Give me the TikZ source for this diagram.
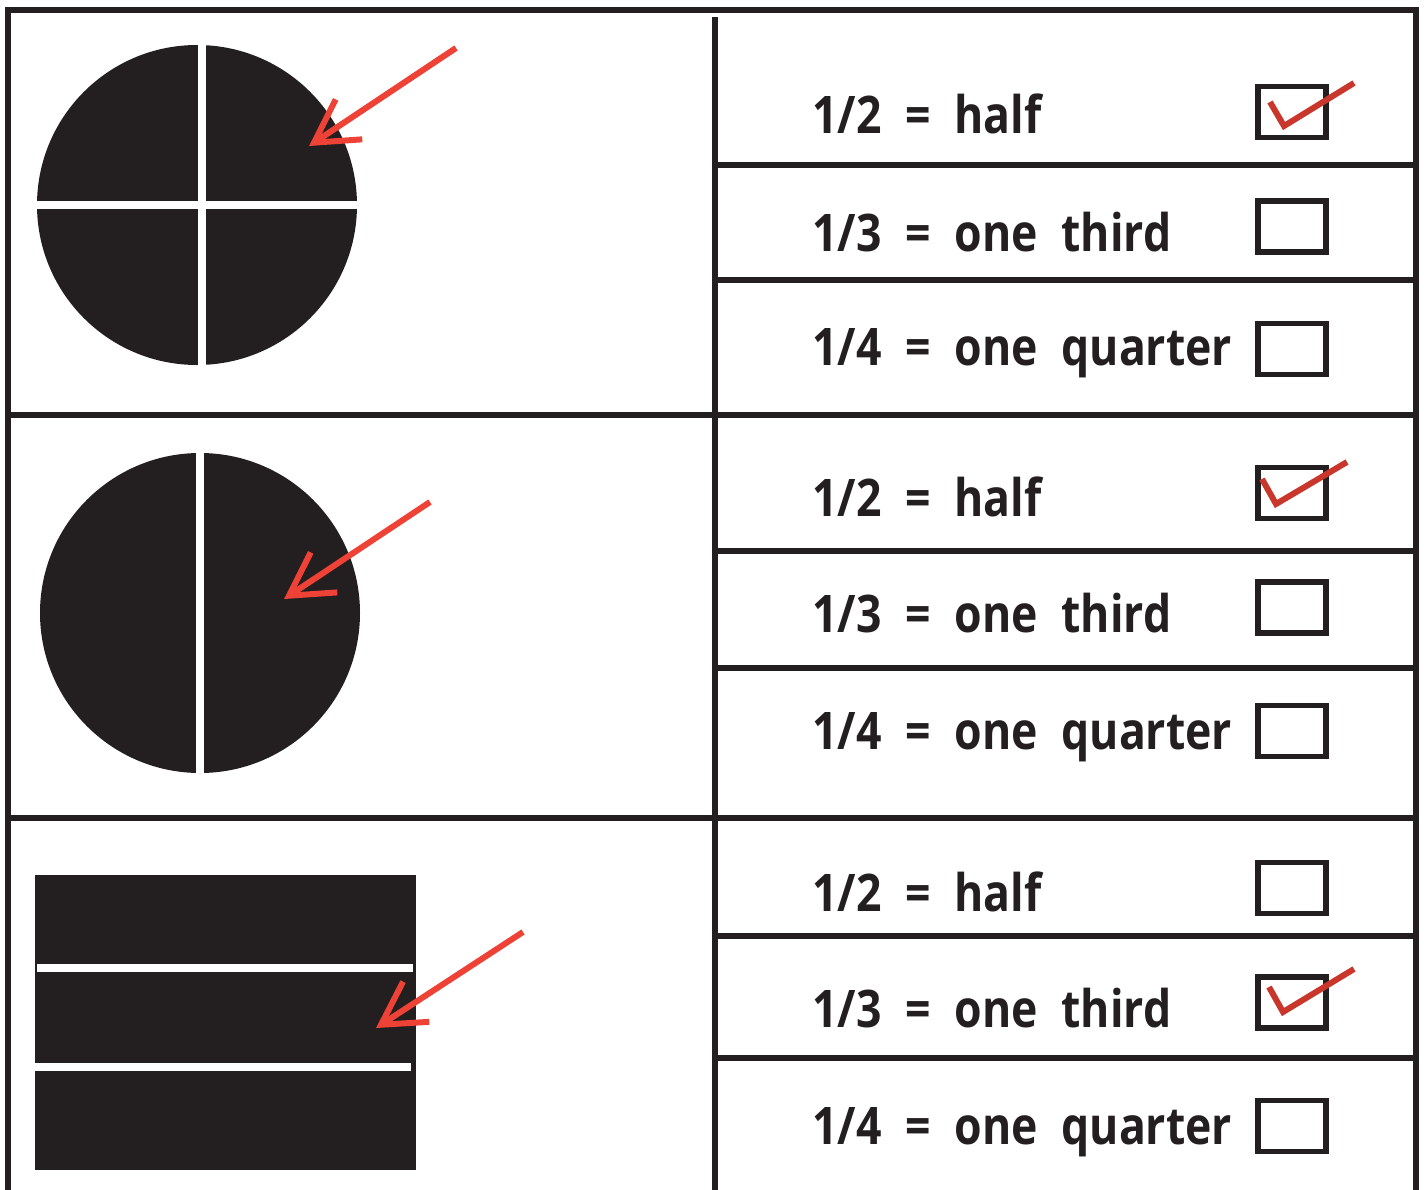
\documentclass[tikz,border=0pt]{standalone}
\usepackage{fontspec}
\setmainfont{Open Sans}[FakeStretch=0.86, WordSpace=2.05]
\usetikzlibrary{arrows.meta}
\definecolor{inkblack}{HTML}{231F20}
\definecolor{arrowred}{HTML}{EE4236}
\definecolor{tickred}{HTML}{C9372C}

\begin{document}
\begin{tikzpicture}[
    x=0.02cm, y=-0.02cm,
    rule/.style={draw=inkblack, line width=2.9pt},
    rowtext/.style={anchor=base west, inner sep=0pt, font=\bfseries\fontsize{29.5}{34}\selectfont, text=inkblack},
    tickbox/.style={rectangle, draw=inkblack, line width=2.9pt, minimum width=1.36cm, minimum height=1.02cm, inner sep=0pt},
    pointer/.style={draw=arrowred, line width=3.4pt, -{Straight Barb[length=0.84cm, width=0.96cm]}},
    checkmark/.style={draw=tickred, line width=3.4pt},
    whitebar/.style={draw=white, line width=4.6pt},
]
\useasboundingbox (0,0) rectangle (1424,1190);

% frame and grid
\draw[rule] (8,1190) -- (8,10) -- (1416,10) -- (1416,1190);
\draw[rule] (715,17) -- (715,1190);
\draw[rule] (8,415) -- (1416,415);
\draw[rule] (8,818) -- (1416,818);
\foreach \y in {165,280,551,668,936,1058}
    \draw[rule] (717,\y) -- (1416,\y);

% shapes
\fill[inkblack] (197,205) circle[radius=160];
\draw[whitebar] (202,45) -- (202,365);
\draw[whitebar] (37,205) -- (357,205);
\fill[inkblack] (200,613) circle[radius=160];
\draw[whitebar] (200,453) -- (200,773);
\fill[inkblack] (35,875) rectangle (416,1170);
\draw[whitebar] (37,968) -- (413,968);
\draw[whitebar] (35,1067) -- (411,1067);

% arrows
\coordinate (tail1) at (456,48);
\coordinate (tip1) at (309,146);
\coordinate (tail2) at (430,502);
\coordinate (tip2) at (284,599);
\coordinate (tail3) at (523,932);
\coordinate (tip3) at (376,1028);
\draw[pointer] (tail1) -- (tip1);
\draw[pointer] (tail2) -- (tip2);
\draw[pointer] (tail3) -- (tip3);

% answers
\node[rowtext] (half1) at (812,133) {1/2 = half};
\node[rowtext] (third1) at (812,251) {1/3 = one third};
\node[rowtext] (quarter1) at (812,365) {1/4 = one quarter};
\node[rowtext] (half2) at (812,516) {1/2 = half};
\node[rowtext] (third2) at (812,632) {1/3 = one third};
\node[rowtext] (quarter2) at (812,749) {1/4 = one quarter};
\node[rowtext] (half3) at (812,911) {1/2 = half};
\node[rowtext] (third3) at (812,1027) {1/3 = one third};
\node[rowtext] (quarter3) at (812,1144) {1/4 = one quarter};

% boxes
\node[tickbox] (box1) at (1292,112) {};
\node[tickbox] (box2) at (1292,226.5) {};
\node[tickbox] (box3) at (1292,349) {};
\node[tickbox] (box4) at (1292,493) {};
\node[tickbox] (box5) at (1292,607.5) {};
\node[tickbox] (box6) at (1292,731) {};
\node[tickbox] (box7) at (1292,888) {};
\node[tickbox] (box8) at (1292,1002.5) {};
\node[tickbox] (box9) at (1292,1126) {};

% ticks
\draw[checkmark] (1270,102) -- (1284,126) -- (1354,83);
\draw[checkmark] (1262,479) -- (1276,504) -- (1347,462);
\draw[checkmark] (1269,987) -- (1283,1012) -- (1354,969);
\end{tikzpicture}
\end{document}
